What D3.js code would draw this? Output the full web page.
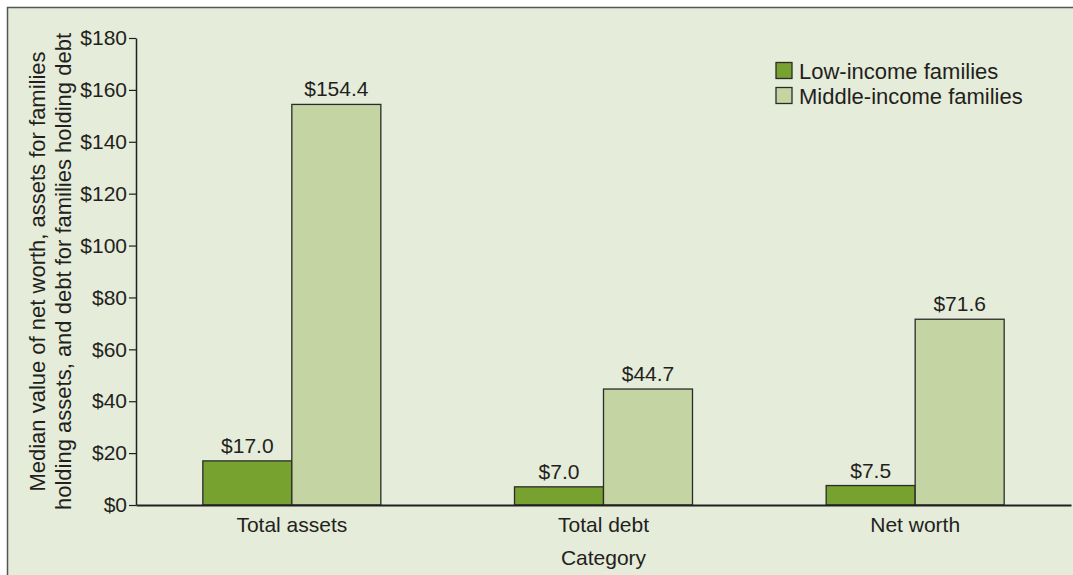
<!DOCTYPE html>
<html>
<head>
<meta charset="utf-8">
<script src="https://cdn.jsdelivr.net/npm/d3@7"></script>
<style>
  body { margin: 0; background: #fff; }
  svg { display: block; font-family: "Liberation Sans", Arial, sans-serif; }
</style>
</head>
<body>
<div class="chart"></div>
<script>
// data
const categories = ['Total assets', 'Total debt', 'Net worth'];
const seriesNames = ['Low-income families', 'Middle-income families'];
const lowIncome = [17.0, 7.0, 7.5];
const middleIncome = [154.4, 44.7, 71.6];
const yTicks = [0, 20, 40, 60, 80, 100, 120, 140, 160, 180];

const width = 1073;
const height = 575;
const colors = ['#77a22f', '#c4d4a3'];
const ink = '#231f20';
const font = '"Liberation Sans", Arial, sans-serif';

const svg = d3.select('.chart')
    .append('svg')
    .attr('width', width)
    .attr('height', height);

// panel + frame
svg.append('rect')
    .attr('x', 7).attr('y', 7)
    .attr('width', width - 7).attr('height', height - 7)
    .attr('fill', '#e5ecd9');
svg.append('path')
    .attr('d', `M7.5,${height} L7.5,7.5 L${width},7.5`)
    .attr('fill', 'none')
    .attr('stroke', '#555')
    .attr('stroke-width', 1.5);

const margin = {left: 136, right: 2, top: 38, bottom: 70};

const x0 = d3.scaleBand()
    .domain(categories)
    .range([margin.left, width - margin.right])
    .padding(0);

const barW = 89;
const x1 = d3.scaleBand()
    .domain(seriesNames)
    .range([x0.bandwidth() / 2 - barW, x0.bandwidth() / 2 + barW]);

const y = d3.scaleLinear()
    .domain([0, 180])
    .range([height - margin.bottom, margin.top]);

const rows = categories.map((c, i) => ({
  category: c,
  values: [
    {name: seriesNames[0], value: lowIncome[i]},
    {name: seriesNames[1], value: middleIncome[i]}
  ]
}));

// bars
const group = svg.selectAll('.group')
    .data(rows)
    .enter()
    .append('g')
    .attr('class', 'group')
    .attr('transform', d => `translate(${x0(d.category)},0)`);

group.selectAll('rect')
    .data(d => d.values)
    .enter()
    .append('rect')
    .attr('x', d => x1(d.name))
    .attr('y', d => y(d.value))
    .attr('width', x1.bandwidth())
    .attr('height', d => y(0) - y(d.value))
    .attr('fill', (d, i) => colors[i])
    .attr('stroke', '#2b2b2b')
    .attr('stroke-width', 1.3);

group.selectAll('.val')
    .data(d => d.values)
    .enter()
    .append('text')
    .attr('class', 'val')
    .attr('x', d => x1(d.name) + x1.bandwidth() / 2)
    .attr('y', d => y(d.value) - 8)
    .attr('text-anchor', 'middle')
    .attr('font-size', '21px')
    .attr('fill', ink)
    .text(d => '$' + d.value.toFixed(1));

// y axis
const yAxis = svg.append('g')
    .attr('transform', `translate(${margin.left},0)`)
    .call(d3.axisLeft(y).tickValues(yTicks).tickSize(7).tickSizeOuter(0).tickPadding(2)
      .tickFormat(d => '$' + d));
yAxis.select('.domain').attr('stroke', ink).attr('stroke-width', 1.5);
yAxis.selectAll('.tick line').attr('stroke', ink).attr('stroke-width', 1.2);
yAxis.selectAll('.tick text').attr('font-size', '21px').attr('fill', ink)
    .attr('font-family', font);

// x axis
const xAxis = svg.append('g')
    .attr('transform', `translate(0,${y(0)})`)
    .call(d3.axisBottom(x0).tickSize(0).tickPadding(12));
xAxis.select('.domain').attr('stroke', ink).attr('stroke-width', 2);
xAxis.selectAll('.tick text').attr('font-size', '21px').attr('fill', ink)
    .attr('font-family', font);

// axis titles
svg.append('text')
    .attr('x', (margin.left + width - margin.right) / 2)
    .attr('y', 565)
    .attr('text-anchor', 'middle')
    .attr('font-size', '21px')
    .attr('fill', ink)
    .text('Category');

const yTitle = svg.append('text')
    .attr('transform', `translate(45,${(y(0) + y(180)) / 2}) rotate(-90)`)
    .attr('text-anchor', 'middle')
    .attr('font-size', '22px')
    .attr('fill', ink);
yTitle.append('tspan').attr('x', 0).attr('dy', 0)
    .text('Median value of net worth, assets for families');
yTitle.append('tspan').attr('x', 0).attr('dy', 26)
    .text('holding assets, and debt for families holding debt');

// legend
const legend = svg.selectAll('.legend')
    .data(seriesNames)
    .enter()
    .append('g')
    .attr('class', 'legend')
    .attr('transform', (d, i) => `translate(776,${62.5 + i * 25})`);

legend.append('rect')
    .attr('width', 16).attr('height', 16)
    .attr('fill', (d, i) => colors[i])
    .attr('stroke', '#2b2b2b')
    .attr('stroke-width', 1.3);

legend.append('text')
    .attr('x', 23)
    .attr('y', 16)
    .attr('font-size', '22px')
    .attr('fill', ink)
    .text(d => d);
</script>
</body>
</html>
